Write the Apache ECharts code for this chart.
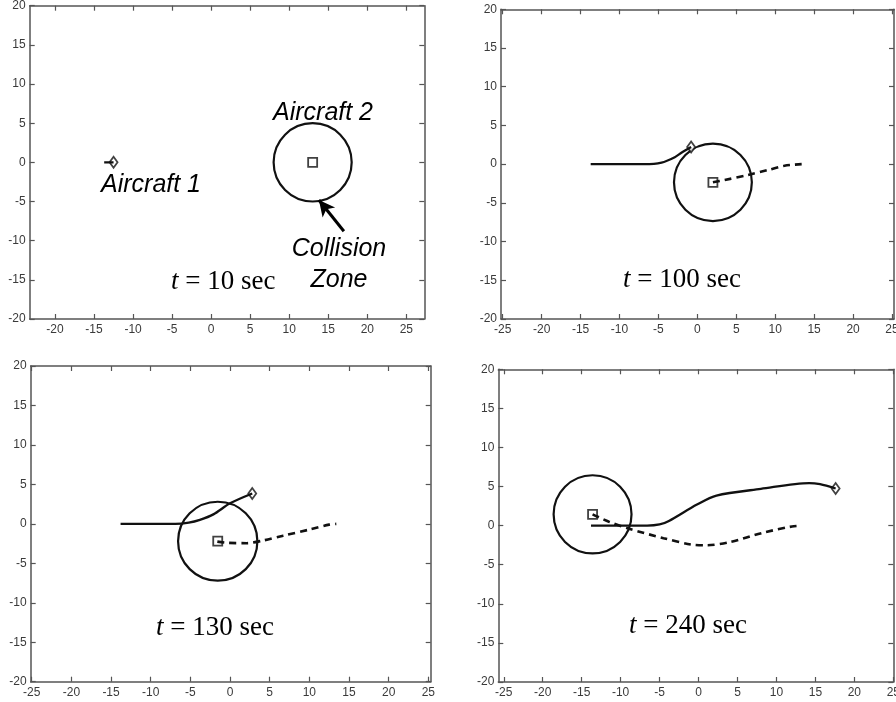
<!DOCTYPE html>
<html lang="en">
  <head>
    <meta charset="UTF-8" />
    <title>Aircraft collision zone</title>
    <script src="https://cdn.jsdelivr.net/npm/echarts@6/dist/echarts.min.js"></script>
    <style>
      html, body { margin: 0; padding: 0; background: #fff; }
    </style>
  </head>
  <body>
    <div id="main" style="width: 896px; height: 702px"></div>

    <script>
      // tick labels
      const xTicksFirst = [-20, -15, -10, -5, 0, 5, 10, 15, 20, 25];
      const xTicks = [-25, -20, -15, -10, -5, 0, 5, 10, 15, 20, 25];
      const yTicks = [-20, -15, -10, -5, 0, 5, 10, 15, 20];

      const times = [10, 100, 130, 240];
      const zoneRadius = 5;

      // aircraft 1 track (solid), one per snapshot
      const ac1Path10 = [[-13.7, 0], [-12.5, 0]];
      const ac1Path100 = [[-13.7, 0], [-6.8, 0], [-4.6, 0.2], [-2.9, 0.9], [-2.0, 1.5], [-0.8, 2.2]];
      const ac1Path130 = [[-13.8, 0], [-6.9, 0], [-5.2, 0.15], [-3.8, 0.5], [-2.1, 1.2], [0, 2.6], [2.8, 3.85]];
      const ac1Path240 = [[-13.8, 0], [-6.6, 0], [-5, 0.15], [-3.8, 0.6], [-0.2, 2.7], [2.3, 3.85], [8, 4.7], [14.2, 5.45], [15.6, 5.3], [17.6, 4.75]];

      // aircraft 2 track (dashed)
      const ac2Path10 = [];
      const ac2Path100 = [[2.0, -2.35], [3.5, -2.05], [6.5, -1.4], [9.1, -0.75], [11.2, -0.2], [13.4, 0]];
      const ac2Path130 = [[-1.6, -2.25], [-0.4, -2.4], [2.1, -2.45], [4.2, -2.1], [6.7, -1.5], [10.1, -0.7], [12.5, -0.1], [13.4, 0]];
      const ac2Path240 = [[-13.6, 1.45], [-11.5, 0.5], [-8.9, -0.4], [-4.5, -1.6], [-1, -2.4], [1.05, -2.5], [4, -2.1], [8.3, -0.9], [12, -0.1], [13.2, 0]];

      // current positions
      const ac1Pos = [[-12.5, 0], [-0.8, 2.2], [2.8, 3.85], [17.6, 4.75]];
      const ac2Pos = [[13, 0], [2.0, -2.35], [-1.55, -2.2], [-13.6, 1.45]];

      // arrow pointing at the collision zone in first panel
      const arrowFrom = [17, -8.8];
      const arrowTo = [13.8, -4.8];

      const ac1Paths = [ac1Path10, ac1Path100, ac1Path130, ac1Path240];
      const ac2Paths = [ac2Path10, ac2Path100, ac2Path130, ac2Path240];

      // layout of the four panels
      const panels = [
        { left: 29.7, top: 5.7, width: 394.6, height: 313.3, xMin: -23.24, xMax: 27.3, ticks: xTicksFirst, tx: 171, ty: 282 },
        { left: 501, top: 9.3, width: 393, height: 309.7, xMin: -25.22, xMax: 25.26, ticks: xTicks, tx: 623, ty: 280 },
        { left: 30.7, top: 366, width: 400, height: 315.7, xMin: -25.13, xMax: 25.3, ticks: xTicks, tx: 156, ty: 627.5 },
        { left: 498.3, top: 369.3, width: 395, height: 312.7, xMin: -25.7, xMax: 25, ticks: xTicks, tx: 629, ty: 625.5 },
      ];

      const axisColor = "#555";
      const labelStyle = { color: "#3a3a3a", fontSize: 12, fontFamily: "Liberation Sans" };

      const myChart = echarts.init(document.getElementById("main"));

      const grid = [];
      const xAxis = [];
      const yAxis = [];
      const series = [];
      const graphic = [];

      panels.forEach((p, i) => {
        grid.push({ left: p.left, top: p.top, width: p.width, height: p.height, outerBoundsMode: "none" });

        ["bottom", "top"].forEach((pos) => {
          xAxis.push({
            type: "value",
            gridIndex: i,
            position: pos,
            min: p.xMin,
            max: p.xMax,
            axisLine: { show: true, onZero: false, lineStyle: { color: axisColor, width: 1.5 } },
            axisTick: { show: true, inside: true, length: 5, customValues: p.ticks, lineStyle: { color: axisColor, width: 1.2 } },
            axisLabel: Object.assign({ show: pos === "bottom", margin: 5, customValues: p.ticks }, labelStyle),
            splitLine: { show: false },
          });
        });
        ["left", "right"].forEach((pos) => {
          yAxis.push({
            type: "value",
            gridIndex: i,
            position: pos,
            min: -20,
            max: 20,
            axisLine: { show: true, onZero: false, lineStyle: { color: axisColor, width: 1.5 } },
            axisTick: { show: true, inside: true, length: 5, customValues: yTicks, lineStyle: { color: axisColor, width: 1.2 } },
            axisLabel: Object.assign({ show: pos === "left", margin: 4, customValues: yTicks, showMinLabel: true, showMaxLabel: true }, labelStyle),
            splitLine: { show: false },
          });
        });

        const xi = i * 2;
        const yi = i * 2;

        // collision zone around aircraft 2
        series.push({
          type: "custom",
          xAxisIndex: xi,
          yAxisIndex: yi,
          data: [[ac2Pos[i][0], ac2Pos[i][1], zoneRadius]],
          encode: { x: 0, y: 1 },
          renderItem: (params, api) => {
            const c = api.coord([api.value(0), api.value(1)]);
            const s = api.size([api.value(2), api.value(2)]);
            return {
              type: "ellipse",
              shape: { cx: c[0], cy: c[1], rx: s[0], ry: s[1] },
              style: { fill: null, stroke: "#111", lineWidth: 2.2 },
            };
          },
        });

        series.push({
          type: "line",
          xAxisIndex: xi,
          yAxisIndex: yi,
          data: ac1Paths[i],
          smooth: 0.3,
          showSymbol: false,
          lineStyle: { color: "#111", width: 2.3 },
        });

        if (ac2Paths[i].length) {
          series.push({
            type: "line",
            xAxisIndex: xi,
            yAxisIndex: yi,
            data: ac2Paths[i],
            smooth: 0.3,
            showSymbol: false,
            lineStyle: { color: "#111", width: 2.6, type: [7, 5] },
          });
        }

        series.push({
          type: "scatter",
          xAxisIndex: xi,
          yAxisIndex: yi,
          data: [ac1Pos[i]],
          symbol: "diamond",
          symbolSize: [8, 11],
          itemStyle: { color: "#fff", borderColor: "#111", borderWidth: 1.8 },
        });

        const sq = {
          type: "scatter",
          xAxisIndex: xi,
          yAxisIndex: yi,
          data: [ac2Pos[i]],
          symbol: "rect",
          symbolSize: 9,
          itemStyle: { color: "#fff", borderColor: "#111", borderWidth: 1.8 },
        };
        if (i === 0) {
          sq.markLine = {
            silent: true,
            symbol: ["none", "arrow"],
            symbolSize: [12, 16],
            label: { show: false },
            lineStyle: { color: "#000", width: 3, type: "solid" },
            data: [[{ coord: arrowFrom }, { coord: arrowTo }]],
          };
        }
        series.push(sq);

        graphic.push({
          type: "text",
          x: p.tx,
          y: p.ty,
          style: {
            text: "{i|t} = " + times[i] + " sec",
            fontFamily: "Liberation Serif",
            fontSize: 27,
            fill: "#000",
            align: "left",
            verticalAlign: "middle",
            textAlign: "left",
            textVerticalAlign: "middle",
            rich: { i: { fontStyle: "italic", fontFamily: "Liberation Serif", fontSize: 27 } },
          },
        });
      });

      // annotations in first panel
      const noteFont = { fontFamily: "Liberation Sans", fontStyle: "italic", fontSize: 25, fill: "#000" };
      [
        { text: "Aircraft 2", x: 273, y: 113, align: "left" },
        { text: "Aircraft 1", x: 101, y: 185.5, align: "left" },
        { text: "Collision", x: 339, y: 249, align: "center" },
        { text: "Zone", x: 339, y: 280.5, align: "center" },
      ].forEach((n) => {
        graphic.push({
          type: "text",
          x: n.x,
          y: n.y,
          style: Object.assign({ text: n.text, align: n.align, verticalAlign: "middle", textAlign: n.align, textVerticalAlign: "middle" }, noteFont),
        });
      });

      myChart.setOption({
        animation: false,
        backgroundColor: "#fff",
        grid,
        xAxis,
        yAxis,
        series,
        graphic,
      });
    </script>
  </body>
</html>
